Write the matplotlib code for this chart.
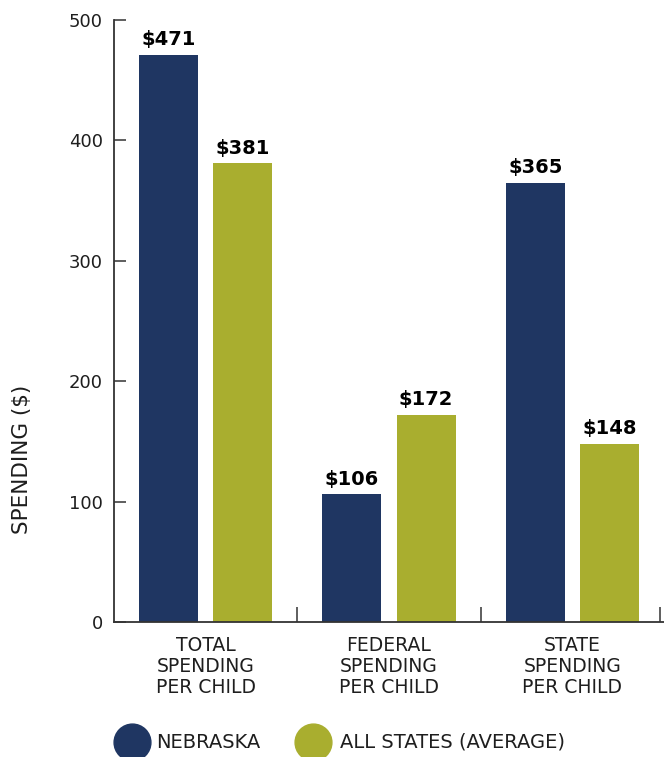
import matplotlib
matplotlib.use("Agg")
import matplotlib.pyplot as plt
import numpy as np
from matplotlib.lines import Line2D

categories = ["TOTAL\nSPENDING\nPER CHILD", "FEDERAL\nSPENDING\nPER CHILD", "STATE\nSPENDING\nPER CHILD"]
nebraska = [471, 106, 365]
all_states = [381, 172, 148]
series_names = ["NEBRASKA", "ALL STATES (AVERAGE)"]
y_ticks = [0, 100, 200, 300, 400, 500]

NAVY = "#1f3662"
OLIVE = "#a9ae2f"
INK = "#1e1e1e"
AXIS = "#333333"

plt.rcParams["font.family"] = "DejaVu Sans"

W, H = 664, 757
fig = plt.figure(figsize=(W / 100, H / 100), dpi=100)
ax = fig.add_axes([114 / W, 135 / H, 550 / W, 602 / H])

x = np.arange(len(categories))
width = 0.322
offset = 0.202

bars_ne = ax.bar(x - offset, nebraska, width, color=NAVY, zorder=2)
bars_all = ax.bar(x + offset, all_states, width, color=OLIVE, zorder=2)

for bars, vals in ((bars_ne, nebraska), (bars_all, all_states)):
    for b, v in zip(bars, vals):
        ax.annotate(f"${v}", (b.get_x() + b.get_width() / 2, v),
                    xytext=(0, 4), textcoords="offset points",
                    ha="center", va="bottom", fontsize=14,
                    fontweight="bold", color="black")

ax.set_xlim(-0.5, 2.5)
ax.set_ylim(0, 500)
ax.set_yticks(y_ticks)
ax.tick_params(axis="y", direction="in", length=8.5, width=1.1,
               color=AXIS, labelsize=13, labelcolor=INK, pad=8)

# category labels at group centers, tick marks at group boundaries
ax.set_xticks(x)
ax.set_xticklabels(categories, fontsize=13.5, color=INK, linespacing=1.15)
ax.tick_params(axis="x", which="major", length=0, pad=10)
ax.set_xticks([0.5, 1.5, 2.48], minor=True)
ax.tick_params(axis="x", which="minor", direction="in", length=10.5,
               width=1.1, color=AXIS)

for side in ("top", "right"):
    ax.spines[side].set_visible(False)
for side in ("left", "bottom"):
    ax.spines[side].set_color(AXIS)
    ax.spines[side].set_linewidth(1.3)

fig.text(22 / W, 1 - 459 / H, "SPENDING ($)", rotation=90,
         ha="center", va="center", fontsize=15.5, color=INK)

# legend: filled circles with labels below the plot
legend_y = 1 - 742 / H
for (cx, tx), name, color in zip(((132, 156), (313, 340)), series_names, (NAVY, OLIVE)):
    fig.add_artist(Line2D([cx / W], [legend_y], linestyle="none", marker="o",
                          markersize=26.5, markerfacecolor=color,
                          markeredgecolor=color, transform=fig.transFigure))
    fig.text(tx / W, legend_y, name, ha="left", va="center",
             fontsize=14, color=INK)

fig.savefig("out.png", dpi=100)
